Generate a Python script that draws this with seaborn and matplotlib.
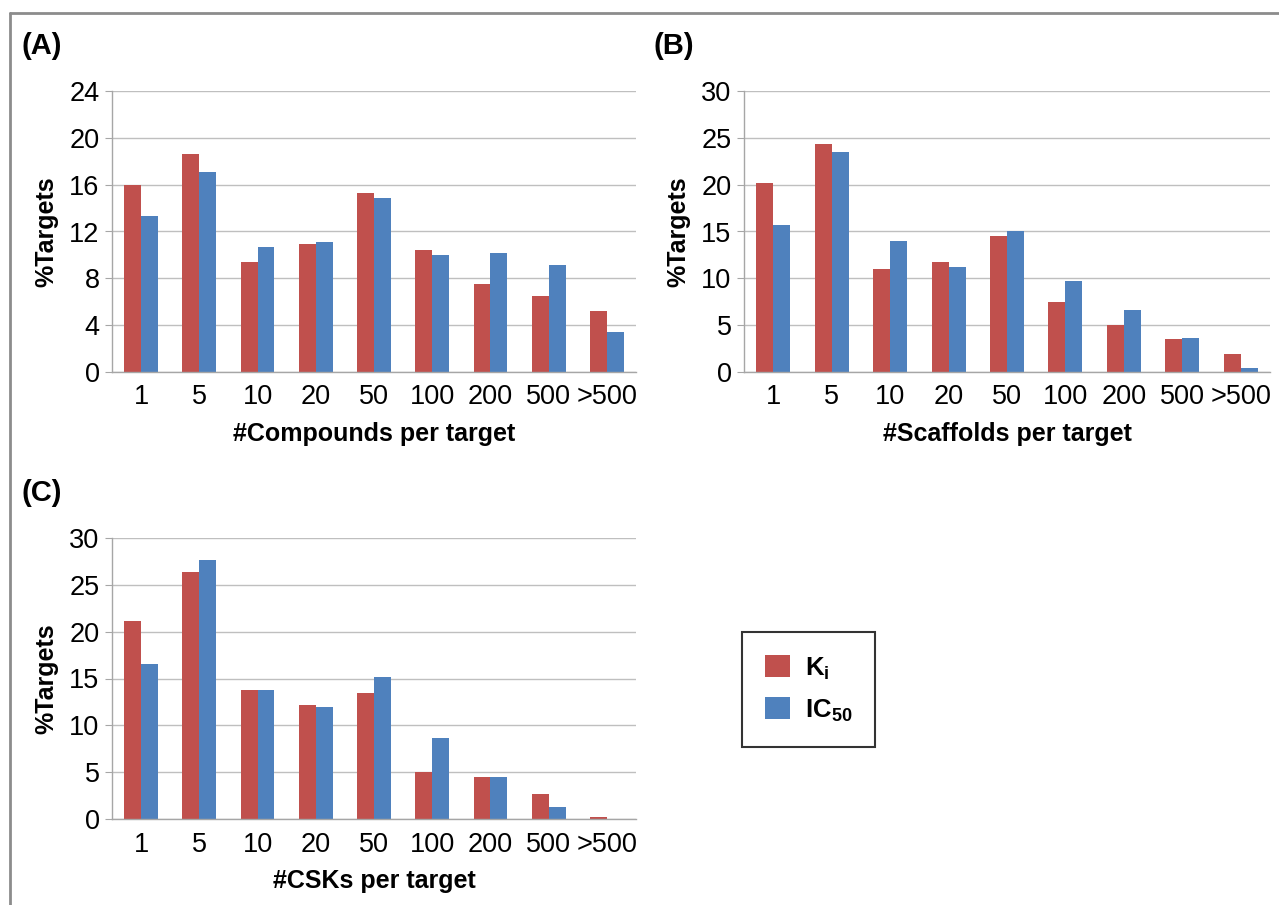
import numpy as np
import pandas as pd
import matplotlib.pyplot as plt
import seaborn as sns
from matplotlib.lines import Line2D
from matplotlib.patches import Patch

bins = ["1", "5", "10", "20", "50", "100", "200", "500", ">500"]
series = ["Ki", "IC50"]

comp_ki = [16.0, 18.6, 9.4, 10.9, 15.3, 10.4, 7.5, 6.5, 5.2]
comp_ic50 = [13.3, 17.1, 10.7, 11.1, 14.9, 10.0, 10.2, 9.1, 3.4]

scaf_ki = [20.2, 24.3, 11.0, 11.7, 14.5, 7.5, 5.0, 3.5, 1.9]
scaf_ic50 = [15.7, 23.5, 14.0, 11.2, 15.0, 9.7, 6.6, 3.6, 0.4]

csk_ki = [21.1, 26.4, 13.8, 12.2, 13.5, 5.0, 4.5, 2.7, 0.25]
csk_ic50 = [16.5, 27.6, 13.8, 12.0, 15.2, 8.6, 4.5, 1.3, 0.0]

colors = {"Ki": "#C0504D", "IC50": "#4F81BD"}

sns.set_style("white")
plt.rcParams["font.family"] = ["Liberation Sans", "DejaVu Sans"]
plt.rcParams["text.color"] = "black"
plt.rcParams["axes.labelcolor"] = "black"
plt.rcParams["xtick.labelcolor"] = "black"
plt.rcParams["ytick.labelcolor"] = "black"
plt.rcParams["mathtext.fontset"] = "custom"
plt.rcParams["mathtext.rm"] = "Liberation Sans"
plt.rcParams["mathtext.bf"] = "Liberation Sans:bold"


def make_df(ki, ic50):
    return pd.DataFrame({
        "bin": bins * 2,
        "series": ["Ki"] * len(bins) + ["IC50"] * len(bins),
        "value": ki + ic50,
    })


def draw_panel(ax, ki, ic50, ymax, ystep, xlabel, tag):
    df = make_df(ki, ic50)
    sns.barplot(data=df, x="bin", y="value", hue="series", order=bins,
                hue_order=series, palette=colors, width=0.58, saturation=1,
                linewidth=0, legend=False, ax=ax)
    ax.set_ylim(0, ymax)
    ax.set_yticks(np.arange(0, ymax + 0.1, ystep))
    ax.set_xlim(-0.5, len(bins) - 0.5)
    ax.set_xticks(np.arange(-0.5, len(bins), 1), minor=True)
    ax.tick_params(axis="x", which="major", length=0, labelsize=19.5, pad=9)
    ax.tick_params(axis="x", which="minor", length=6, color="#A6A6A6", width=1)
    ax.tick_params(axis="y", length=5, color="#A6A6A6", labelsize=19.5, pad=4, left=True)
    ax.yaxis.grid(True, color="#BFBFBF", linewidth=1)
    ax.set_axisbelow(True)
    for s in ["top", "right"]:
        ax.spines[s].set_visible(False)
    for s in ["left", "bottom"]:
        ax.spines[s].set_color("#A6A6A6")
        ax.spines[s].set_linewidth(1)
    ax.set_xlabel(xlabel, fontsize=18, fontweight="bold", labelpad=8)
    ax.set_ylabel("%Targets", fontsize=18, fontweight="bold", labelpad=8)
    ax.text(-0.172, 1.16, tag, transform=ax.transAxes, fontsize=21,
            fontweight="bold", ha="left", va="center")


fig = plt.figure(figsize=(12.79, 9.05), dpi=100)
W, H = 1279, 905
ax_a = fig.add_axes([112 / W, 1 - 372 / H, 524 / W, 281 / H])
ax_b = fig.add_axes([744 / W, 1 - 372 / H, 526 / W, 281 / H])
ax_c = fig.add_axes([112 / W, 1 - 819 / H, 524 / W, 281 / H])

draw_panel(ax_a, comp_ki, comp_ic50, 24, 4, "#Compounds per target", "(A)")
draw_panel(ax_b, scaf_ki, scaf_ic50, 30, 5, "#Scaffolds per target", "(B)")
draw_panel(ax_c, csk_ki, csk_ic50, 30, 5, "#CSKs per target", "(C)")

# outer frame lines (top and left)
fig.add_artist(Line2D([10 / W, 1], [1 - 13 / H, 1 - 13 / H], color="#8C8C8C", linewidth=2))
fig.add_artist(Line2D([10 / W, 10 / W], [0, 1 - 13 / H], color="#8C8C8C", linewidth=2))

handles = [Patch(facecolor=colors["Ki"], edgecolor="none"),
           Patch(facecolor=colors["IC50"], edgecolor="none")]
labels = [r"K$_\mathbf{i}$", r"IC$_\mathbf{50}$"]
leg = fig.legend(handles, labels, loc="upper left", bbox_to_anchor=(742 / W, 1 - 632 / H),
                 frameon=True, fancybox=False, edgecolor="black",
                 prop={"size": 18.5, "weight": "bold"}, handlelength=0.95,
                 handleheight=0.95, handletextpad=0.6, labelspacing=0.6,
                 borderpad=0.9, borderaxespad=0)
leg.get_frame().set_linewidth(1.5)

fig.savefig("out.png", dpi=100, facecolor="white")
